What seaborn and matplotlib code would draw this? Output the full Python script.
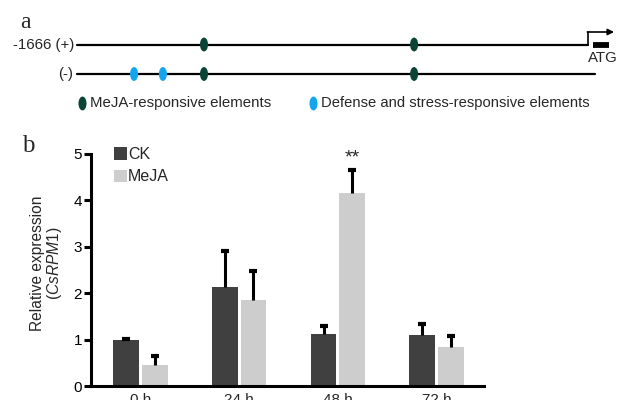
import numpy as np
import pandas as pd
import matplotlib
matplotlib.use("Agg")
import matplotlib.pyplot as plt
from matplotlib.path import Path
import seaborn as sns

# ---------------- data ----------------
times = ["0 h", "24 h", "48 h", "72 h"]
treatments = ["CK", "MeJA"]
ck_mean = [1.00, 2.14, 1.13, 1.10]
ck_sd = [0.02, 0.78, 0.17, 0.23]
meja_mean = [0.45, 1.85, 4.15, 0.84]
meja_sd = [0.20, 0.63, 0.50, 0.24]
y_ticks = [0, 1, 2, 3, 4, 5]
significance = {"48 h": "**"}

# promoter elements (bp relative to ATG)
promoter_start = -1666
meja_elements_plus = [-1252, -567]
meja_elements_minus = [-1252, -567]
defense_elements_minus = [-1480, -1386]

# ---------------- style ----------------
sns.set_theme(style="white")
plt.rcParams["font.family"] = ["Liberation Sans", "DejaVu Sans"]
plt.rcParams["mathtext.fontset"] = "custom"
plt.rcParams["mathtext.rm"] = "Liberation Sans"
plt.rcParams["mathtext.it"] = "Liberation Sans:italic"

W, H = 618, 400
fig = plt.figure(figsize=(W / 100, H / 100), dpi=100)

dark_green = "#0b4436"
light_blue = "#13a6ef"
ck_color = "#404040"
meja_color = "#cdcdcd"
fs_a = 10.8

# ---------------- panel a ----------------
axa = fig.add_axes([0, 1 - 120 / H, 1, 120 / H])
px_per_bp = (588 - 77) / 1666.0
x0 = promoter_start - 77 / px_per_bp
axa.set_xlim(x0, x0 + W / px_per_bp)
axa.set_ylim(120, 0)
axa.axis("off")

y_plus, y_minus, y_leg = 44.5, 74, 103
axa.plot([promoter_start, 0], [y_plus, y_plus], color="black", lw=1.6, zorder=1)
axa.plot([promoter_start, 23], [y_minus, y_minus], color="black", lw=1.6, zorder=1)

# TSS arrow and ATG box
axa.plot([0, 0], [y_plus, 32], color="black", lw=1.2, zorder=2)
axa.annotate("", xy=(85, 32), xytext=(-2, 32),
             arrowprops=dict(arrowstyle="-|>", color="black", lw=1.2,
                             mutation_scale=9, shrinkA=0, shrinkB=0))
axa.plot([16, 68], [y_plus, y_plus], color="black", lw=4.2, solid_capstyle="butt", zorder=3)
axa.text(48, 58, "ATG", fontsize=fs_a, ha="center", va="center")

# ellipse marker
circ = Path.unit_circle()
ell = Path(circ.vertices * np.array([0.58, 1.0]), circ.codes)

elem = pd.DataFrame({
    "pos": meja_elements_plus + meja_elements_minus + defense_elements_minus,
    "y": [y_plus] * len(meja_elements_plus) + [y_minus] * len(meja_elements_minus)
         + [y_minus] * len(defense_elements_minus),
    "type": ["MeJA"] * (len(meja_elements_plus) + len(meja_elements_minus))
            + ["Defense"] * len(defense_elements_minus),
})
sns.scatterplot(data=elem, x="pos", y="y", hue="type",
                palette={"MeJA": dark_green, "Defense": light_blue},
                marker=ell, s=100, linewidth=0, legend=False, ax=axa, zorder=4)

def bp(px):
    return x0 + px / px_per_bp

axa.text(bp(74), y_plus, "-1666 (+)", fontsize=fs_a, ha="right", va="center")
axa.text(bp(73), y_minus, "(-)", fontsize=fs_a, ha="right", va="center")

axa.scatter([bp(82)], [y_leg], marker=ell, s=100, color=dark_green, linewidth=0)
axa.text(bp(90), y_leg, "MeJA-responsive elements", fontsize=fs_a, ha="left", va="center")
axa.scatter([bp(313)], [y_leg], marker=ell, s=100, color=light_blue, linewidth=0)
axa.text(bp(321), y_leg, "Defense and stress-responsive elements", fontsize=10.6,
         ha="left", va="center")

fig.text(20 / W, 1 - 22 / H, "a", family="Liberation Serif", fontsize=17,
         ha="left", va="center")

# ---------------- panel b ----------------
left, right, top, bottom = 91, 484, 154, 386
axb = fig.add_axes([left / W, 1 - bottom / H, (right - left) / W, (bottom - top) / H])

df = pd.DataFrame({
    "time": times * 2,
    "treatment": ["CK"] * len(times) + ["MeJA"] * len(times),
    "value": ck_mean + meja_mean,
})
sns.barplot(data=df, x="time", y="value", hue="treatment", order=times,
            hue_order=treatments, palette={"CK": ck_color, "MeJA": meja_color},
            width=0.58, gap=0.1, linewidth=0, errorbar=None, ax=axb, zorder=2)

sds = {"CK": ck_sd, "MeJA": meja_sd}
means = {"CK": ck_mean, "MeJA": meja_mean}
for cont, trt in zip(axb.containers, treatments):
    xs = [p.get_x() + p.get_width() / 2 for p in cont.patches]
    eb = axb.errorbar(xs, means[trt], yerr=[np.zeros(len(xs)), sds[trt]], fmt="none",
                      ecolor="black", elinewidth=2.2, capsize=3.2, capthick=3, zorder=3)
    caplines = eb[1]
    for cl in caplines:
        if np.allclose(cl.get_ydata(), means[trt]):
            cl.set_visible(False)
    if trt == "MeJA":
        for x, m, s, t in zip(xs, means[trt], sds[trt], times):
            if t in significance:
                axb.text(x, m + s + 0.08, significance[t], fontsize=14,
                         ha="center", va="bottom")

axb.set_xlim(-0.5, 3.48)
axb.set_ylim(0, 5)
axb.set_yticks(y_ticks)
axb.set_xlabel("")
axb.set_ylabel("")
for side in ["top", "right"]:
    axb.spines[side].set_visible(False)
for side in ["left", "bottom"]:
    axb.spines[side].set_linewidth(2.2)
    axb.spines[side].set_color("black")
axb.tick_params(axis="y", left=True, length=5, width=2.2, pad=1.5, labelsize=11,
                colors="black")
axb.tick_params(axis="x", bottom=False, length=0, pad=5, labelsize=11)
axb.grid(False)

axb.legend(loc="upper left", bbox_to_anchor=(0.058, 1.03), frameon=False,
           handlelength=0.8, handleheight=0.8, handletextpad=0.1,
           borderaxespad=0, borderpad=0, labelspacing=0.45, fontsize=11.5)

fig.text(37.5 / W, 1 - 263 / H, "Relative expression", rotation=90, fontsize=11.2,
         ha="center", va="center")
fig.text(54 / W, 1 - 263 / H, "(" + r"$\mathit{CsRPM1}$" + ")", rotation=90,
         fontsize=11.2, ha="center", va="center")
fig.text(22 / W, 1 - 146 / H, "b", family="Liberation Serif", fontsize=18,
         ha="left", va="center")

fig.savefig("out.png", dpi=100)
